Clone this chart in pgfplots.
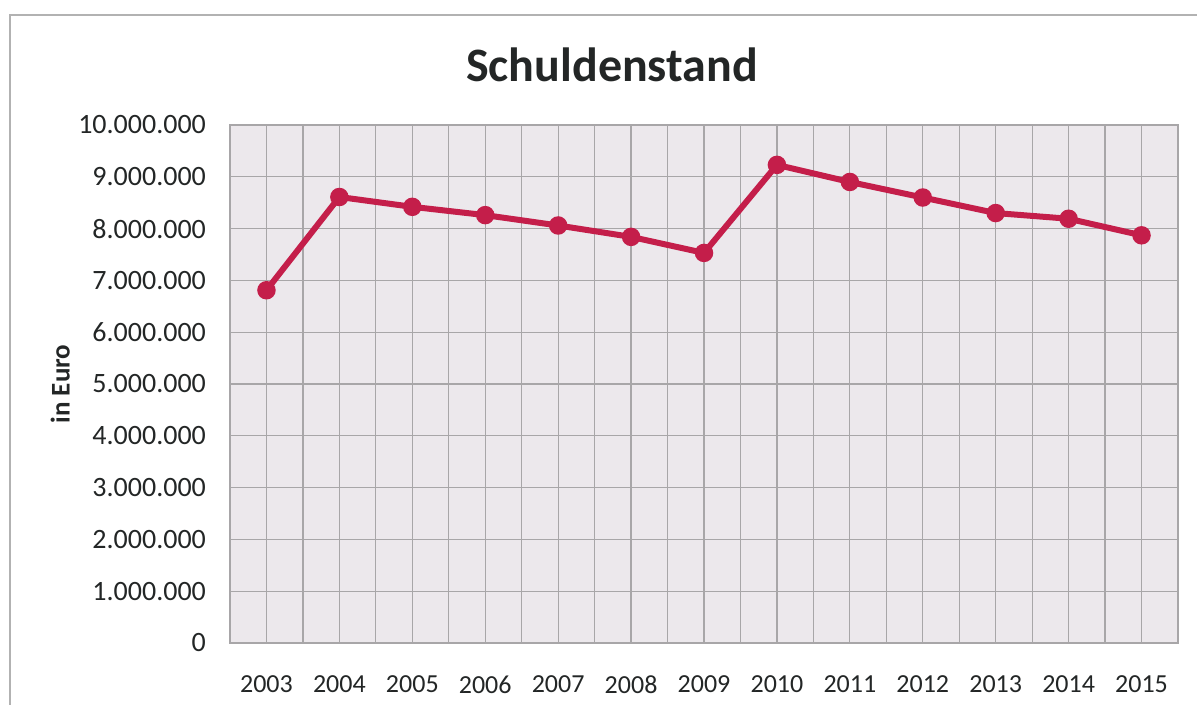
\documentclass[border=0pt]{standalone}
\usepackage{pgfplots}
\pgfplotsset{compat=1.18}
\usepackage{fontspec}
\setmainfont{Carlito}
\definecolor{linecol}{RGB}{196,30,74}
\definecolor{bgcol}{RGB}{236,232,236}
\definecolor{gridcol}{RGB}{168,166,168}
\definecolor{txtcol}{RGB}{35,38,38}
\begin{document}
\begin{tikzpicture}
\path[use as bounding box] (-115pt,-31pt) rectangle (483.5pt,321.5pt);
\draw[gray!60, line width=0.6pt] (-110pt,-31pt) -- (-110pt,314pt) -- (483.5pt,314pt);
\begin{axis}[
  scale only axis,
  width=474pt, height=259pt,
  at={(0,0)}, anchor=south west,
  xmin=2002.5, xmax=2015.5,
  ymin=0, ymax=10000000,
  xtick={2003,2004,2005,2006,2007,2008,2009,2010,2011,2012,2013,2014,2015},
  xticklabels={2003,2004,2005,2006,2007,2008,2009,2010,2011,2012,2013,2014,2015},
  minor xtick={2003.5,2004.5,2005.5,2006.5,2007.5,2008.5,2009.5,2010.5,2011.5,2012.5,2013.5,2014.5},
  ytick={0,1000000,2000000,3000000,4000000,5000000,6000000,7000000,8000000,9000000,10000000},
  scaled y ticks=false,
  /pgf/number format/assume math mode=true,
  /pgf/number format/fixed,
  /pgf/number format/1000 sep={.},
  grid=both,
  major grid style={gridcol, line width=0.6pt},
  minor grid style={gridcol, line width=0.6pt},
  major tick length=0pt, minor tick length=0pt,
  axis line style={gridcol, line width=0.8pt},
  axis background/.style={fill=bgcol},
  xticklabel style={font=\fontsize{13}{15}\selectfont, text=txtcol, yshift=-13pt},
  yticklabel style={font=\fontsize{14}{16}\selectfont, text=txtcol, xshift=-8.5pt},
  ylabel={\bfseries in Euro},
  ylabel style={font=\fontsize{13.5}{15}\selectfont, text=txtcol, at={(axis description cs:-0.179,0.5)}, anchor=center},
  title={\bfseries Schuldenstand},
  title style={font=\fontsize{24}{28}\selectfont, text=txtcol, at={(axis description cs:0.403,1)}, yshift=12pt, anchor=south},
  clip=false,
]
\addplot[linecol, line width=3pt, mark=*, mark size=3.1pt, mark options={fill=linecol, draw=linecol}]
coordinates {
(2003,6810000)
(2004,8610000)
(2005,8420000)
(2006,8260000)
(2007,8060000)
(2008,7840000)
(2009,7530000)
(2010,9230000)
(2011,8900000)
(2012,8600000)
(2013,8300000)
(2014,8190000)
(2015,7870000)
};
\end{axis}
\end{tikzpicture}
\end{document}
